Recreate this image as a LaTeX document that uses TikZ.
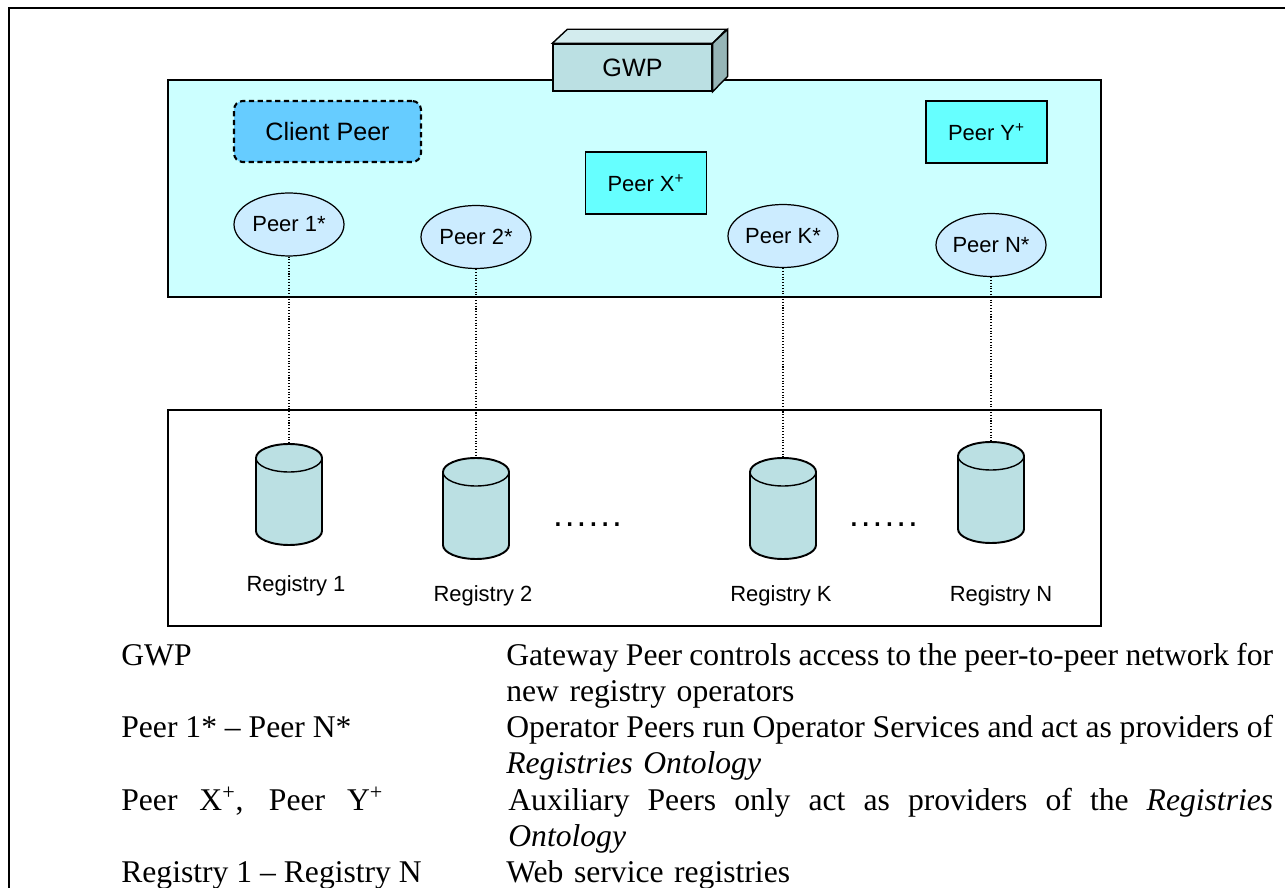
\documentclass[tikz,border=0pt]{standalone}
\usepackage{fontspec}
\setmainfont{Liberation Serif}
\setsansfont{Liberation Sans}
\usetikzlibrary{shapes.geometric}

\definecolor{netfill}{HTML}{CCFFFF}
\definecolor{clientfill}{HTML}{66CCFF}
\definecolor{auxfill}{HTML}{66FFFF}
\definecolor{opfill}{HTML}{CCECFF}
\definecolor{drumfill}{HTML}{BBE0E3}
\definecolor{gwptop}{HTML}{D3ECEE}
\definecolor{gwpside}{HTML}{96B5B7}

% a justified line of the legend
\newcommand\fullline[2][15.34cm]{\hbox to #1{\spaceskip=0.15em plus 1fil\relax #2}}
\newcommand\dotrun{\hbox to 1.416cm{\leaders\hbox to 0.236cm{\hss.\hss}\hfill}}

\tikzset{drum/.pic={
  \path[draw,line width=1.1pt,fill=drumfill] (-33,0) -- (-33,73)
     arc[start angle=180,end angle=360,x radius=0.66cm,y radius=0.28cm] -- (33,0)
     arc[start angle=0,end angle=180,x radius=0.66cm,y radius=0.28cm] -- cycle;
  \draw[line width=0.8pt] (-33,0) arc[start angle=180,end angle=360,x radius=0.66cm,y radius=0.28cm];
  \coordinate (-top) at (0,-14);
}}

\begin{document}
\begin{tikzpicture}[x=0.02cm,y=-0.02cm]
\path[use as bounding box] (0,0) rectangle (1285,888);

\tikzstyle{every node}+=[inner sep=0pt]
\tikzstyle{diag}=[font=\sffamily\fontsize{12.5}{15}\selectfont]
\tikzstyle{bigdiag}=[font=\sffamily\fontsize{14.3}{17}\selectfont]
\tikzstyle{area}=[draw,line width=0.8pt,minimum width=18.66cm]
\tikzstyle{oppeer}=[diag,draw,ellipse,line width=0.7pt,fill=opfill,minimum width=2.2cm,minimum height=1.26cm]
\tikzstyle{auxpeer}=[diag,draw,line width=0.9pt,fill=auxfill,minimum width=2.42cm,minimum height=1.24cm]
\tikzstyle{link}=[densely dotted,line width=0.6pt]
\tikzstyle{regname}=[diag,anchor=base]
\tikzstyle{gap}=[font=\sffamily\fontsize{20}{24}\selectfont]
\tikzstyle{legend}=[font=\fontsize{18}{20.66}\selectfont,anchor=base west]
\tikzstyle{explain}=[legend,text width=15.34cm,align=left]

% frame
\draw[line width=1.2pt] (9,888) -- (9,8) -- (1285,8);

% peer network and registries
\node[area,fill=netfill,minimum height=4.34cm] (net) at (634.5,188.5) {};
\node[area,fill=white,minimum height=4.32cm] (store) at (634.5,518) {};

\node[bigdiag,draw,line width=0.8pt,fill=drumfill,minimum width=3.18cm,minimum height=0.94cm] (gwp) at (632.5,67.5) {GWP};
\draw[line width=0.8pt,fill=gwptop] (gwp.north west) -- ++(15,-14) -- ++(159,0) -- (gwp.north east) -- cycle;
\draw[line width=0.8pt,fill=gwpside] (gwp.north east) -- ++(15,-14) -- ++(0,47) -- (gwp.south east) -- cycle;

\node[bigdiag,draw,dashed,dash pattern=on 3pt off 2pt,line width=1.2pt,rounded corners=5pt,fill=clientfill,
      minimum width=3.74cm,minimum height=1.22cm] (client) at (327.5,131.5) {Client Peer};
\node[auxpeer] (px) at (646,183) {Peer X\textsuperscript{+}};
\node[auxpeer] (py) at (986.5,132) {Peer Y\textsuperscript{+}};

\node[oppeer] (p1) at (289,224.5) {Peer 1*};
\node[oppeer] (p2) at (476,237) {Peer 2*};
\node[oppeer] (pk) at (783,236) {Peer K*};
\node[oppeer] (pn) at (991,245) {Peer N*};

\pic (reg1) at (289,458) {drum};
\pic (reg2) at (476,472) {drum};
\pic (regk) at (783,472) {drum};
\pic (regn) at (991,456) {drum};

\draw[link] (p1.south) -- (reg1-top);
\draw[link] (p2.south) -- (reg2-top);
\draw[link] (pk.south) -- (regk-top);
\draw[link] (pn.south) -- (regn-top);

\node[regname] (r1) at (296,591) {Registry 1};
\node[regname] (r2) at (483,601) {Registry 2};
\node[regname] (rk) at (781,601) {Registry K};
\node[regname] (rn) at (1001,601) {Registry N};

\node[gap] (gapa) at (587.5,525) {\dotrun};
\node[gap] (gapb) at (883.5,525) {\dotrun};

% legend
\node[legend] (kgwp) at (121,665) {GWP};
\node[legend] (kop) at (121,737.6) {Peer 1* -- Peer N*};
\node[legend] (kaux) at (121,810.2) {\makebox[5.24cm][s]{Peer X\textsuperscript{+}, Peer Y\textsuperscript{+}}};
\node[legend] (kreg) at (121,882.8) {Registry 1 -- Registry N};

\node[explain] (dgwp) at (506,665) {\fullline{Gateway Peer controls access to the peer-to-peer network for}\\new registry operators};
\node[explain] (dop) at (506,737.6) {\fullline{Operator Peers run Operator Services and act as providers of}\\\textit{Registries Ontology}};
\node[explain] (daux) at (508,810.2) {\fullline[15.3cm]{Auxiliary Peers only act as providers of the \textit{Registries}}\\\textit{Ontology}};
\node[explain] (dreg) at (506,882.8) {Web service registries};
\end{tikzpicture}
\end{document}
